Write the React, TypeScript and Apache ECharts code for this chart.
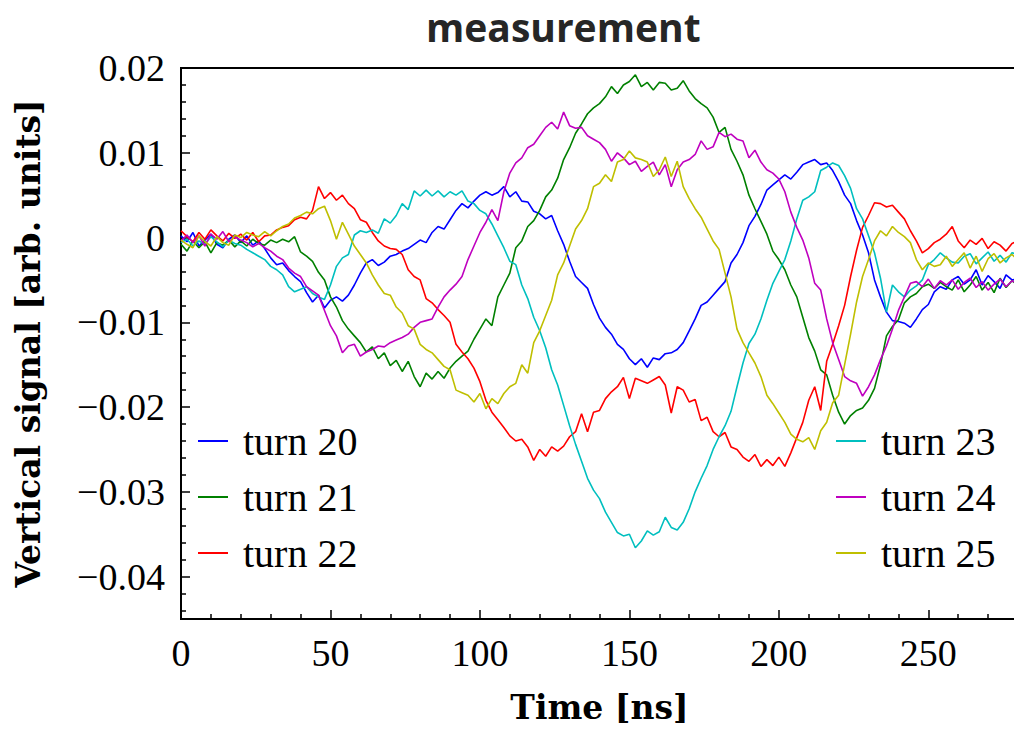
import React, { useEffect, useRef } from "react";
import * as echarts from "echarts";

// Sampling grid of the oscilloscope traces (ns)
const TIME_NS: number[] = Array.from({ length: 141 }, (_, i) => i * 2);

// Vertical signal per turn, in units of 1e-3 arb. units
const turn20 = [
  0.2, -0.5, 0.6, -1.0, -0.3, 0.4, -0.8, -1.2, -0.2, 0.3,
  -0.6, 0.2, -0.9, -0.4, -1.3, -2.4, -3.2, -3.0, -3.9, -4.6,
  -5.2, -6.5, -7.6, -6.8, -8.3, -7.4, -7.0, -7.5, -6.8, -5.6,
  -4.2, -3.0, -2.6, -3.3, -2.9, -2.2, -2.0, -1.6, -1.3, -0.8,
  -0.3, -0.6, 0.6, 1.3, 1.0, 2.1, 3.2, 4.0, 3.5, 4.3,
  5.0, 5.4, 5.0, 5.3, 6.0, 4.8, 5.4, 4.3, 4.2, 3.1,
  2.8, 2.2, 2.6, 0.8, -0.8, -2.8, -4.6, -5.3, -6.0, -7.9,
  -9.5, -10.6, -11.4, -12.6, -13.2, -14.3, -15.0, -14.3, -15.3, -14.2,
  -14.4, -13.7, -13.6, -13.2, -12.4, -11.0, -9.6, -8.0, -7.6, -6.8,
  -6.0, -5.2, -3.0, -2.0, -0.6, 1.4, 2.5, 3.9, 5.6, 6.2,
  6.8, 7.4, 6.9, 7.7, 8.6, 8.9, 9.2, 8.6, 8.8, 7.9,
  6.6, 5.0, 4.0, 2.0, 0.3, -1.8, -5.0, -7.0, -8.8, -9.8,
  -9.9, -10.1, -10.6, -9.6, -8.5, -7.9, -6.4, -5.8, -6.1, -5.0,
  -4.6, -5.5, -5.0, -3.8, -5.6, -4.5, -5.2, -6.0, -4.4, -5.0, -4.9,
];
const turn21 = [
  -0.8, -1.6, -0.4, -1.2, -0.5, -1.8, -0.6, -0.9, -0.3, -1.1,
  -0.4, -1.0, -0.2, -0.7, -0.9, -0.3, -0.6, -0.2, -0.5, 0.1,
  -1.7, -2.2, -2.8, -4.1, -5.0, -7.0, -8.2, -9.8, -10.8, -11.6,
  -12.4, -13.5, -12.9, -14.3, -13.6, -15.1, -14.5, -15.8, -14.6, -16.4,
  -17.6, -16.0, -16.7, -15.8, -16.6, -15.4, -14.6, -14.0, -13.4, -12.0,
  -10.8, -9.6, -10.4, -7.0, -5.6, -4.2, -1.2, -0.4, 1.3, 2.0,
  3.2, 4.8, 5.6, 7.0, 9.2, 10.6, 12.3, 13.4, 14.6, 15.3,
  15.8, 16.6, 17.8, 17.0, 18.0, 18.4, 19.2, 17.8, 18.3, 17.4,
  18.3, 18.2, 17.4, 17.6, 18.5, 17.3, 16.4, 15.8, 15.3, 14.2,
  12.4, 13.0, 10.4, 9.0, 7.4, 5.0, 3.4, 1.9, 0.4, -1.6,
  -2.6, -3.8, -5.6, -7.0, -9.4, -11.8, -13.4, -15.6, -16.2, -18.6,
  -20.6, -22.0, -21.0, -20.4, -20.1, -19.2, -17.8, -15.0, -11.6, -10.5,
  -9.7, -7.7, -7.0, -6.6, -5.8, -5.5, -6.0, -5.3, -5.8, -6.2,
  -5.0, -6.4, -5.6, -4.6, -6.2, -5.3, -6.5, -4.8, -5.9, -5.1, -5.6,
];
const turn22 = [
  0.8, 0.1, -0.5, 0.6, -0.2, 0.9, 0.2, -0.4, 0.5, -0.1,
  0.4, -0.3, 0.6, -0.5, 0.2, 0.3, 0.9, 1.2, 1.4, 2.1,
  2.4, 2.2, 3.2, 6.0, 4.6, 5.3, 4.4, 5.0, 4.0, 3.4,
  2.1, 1.8, 0.6, -0.4, -1.0, -1.3, -1.4, -2.0, -3.8, -4.6,
  -5.0, -7.2, -7.7, -8.5, -9.2, -10.0, -12.6, -13.5, -14.3, -15.4,
  -17.0, -19.2, -20.6, -21.5, -22.4, -23.4, -24.0, -23.8, -24.7, -26.3,
  -25.0, -25.8, -24.7, -25.2, -24.6, -23.5, -22.9, -20.8, -22.9, -20.6,
  -20.4, -19.0, -18.2, -17.6, -16.5, -19.0, -16.6, -16.9, -17.2, -16.8,
  -16.4, -17.4, -20.7, -17.6, -18.0, -19.4, -19.1, -21.6, -21.2, -22.9,
  -23.5, -23.0, -24.7, -25.0, -25.9, -26.4, -25.6, -27.0, -26.2, -26.9,
  -25.9, -27.0, -25.4, -23.6, -21.8, -19.2, -17.6, -20.4, -14.6, -12.6,
  -10.4, -8.0, -4.6, -1.5, 1.2, 2.6, 4.1, 4.0, 3.6, 3.8,
  3.0, 2.2, 0.8, -0.4, -1.8, -1.3, -0.6, -0.2, 0.4, 1.3,
  -0.4, -1.2, -0.3, -0.8, -0.1, -1.3, -0.5, -0.9, -1.6, -0.7, -0.4,
];
const turn23 = [
  -0.6, -0.2, -1.0, -0.4, -0.8, 0.1, -0.5, -1.1, -0.3, -0.7,
  -0.9, -1.4, -1.8, -2.2, -2.6, -3.4, -3.8, -4.4, -5.8, -6.4,
  -6.1, -5.8, -6.6, -7.0, -7.3, -5.6, -3.4, -2.4, -2.0, 0.3,
  0.8, 0.6, 0.9, 0.5, 2.2, 1.7, 2.6, 4.0, 3.3, 5.5,
  4.9, 5.6, 4.9, 5.5, 4.8, 5.4, 5.0, 5.5, 4.3, 4.0,
  3.2, 2.8, 1.6, 0.2, -1.2, -2.8, -3.2, -5.6, -7.2, -9.4,
  -11.0, -13.0, -15.6, -17.4, -19.8, -22.2, -24.4, -26.4, -28.4, -29.8,
  -30.8, -32.4, -33.6, -34.8, -35.2, -35.0, -36.6, -35.8, -34.6, -35.1,
  -34.7, -33.0, -34.2, -34.5, -33.6, -32.0, -30.0, -28.4, -26.9, -25.0,
  -23.5, -22.2, -20.5, -17.6, -14.8, -12.5, -11.4, -9.6, -7.4, -5.4,
  -4.0, -2.6, -0.4, 2.2, 4.4, 4.8, 5.4, 7.9, 8.3, 8.8,
  8.5, 7.3, 5.8, 3.4, 2.2, 0.2, -1.8, -4.8, -8.8, -5.6,
  -6.4, -7.0, -6.2, -5.7, -5.0, -3.2, -2.6, -1.8, -2.4, -2.9,
  -3.0, -2.2, -1.9, -3.1, -2.4, -1.7, -2.8, -2.1, -2.9, -1.8, -2.0,
];
const turn24 = [
  -0.4, 0.3, -0.6, 0.2, -1.0, 0.4, -0.2, 0.7, -0.5, 0.1,
  -0.3, -0.6, -1.1, -0.7, -1.2, -1.6, -2.2, -2.6, -3.6, -4.2,
  -4.6, -5.8, -6.3, -6.8, -8.6, -10.4, -11.6, -13.6, -12.8, -12.6,
  -14.0, -13.5, -13.2, -12.8, -12.9, -12.4, -12.1, -11.8, -11.4, -10.6,
  -10.0, -9.8, -9.6, -8.2, -7.0, -6.2, -5.5, -4.6, -2.6, -1.0,
  0.6, 1.8, 3.3, 2.0, 5.4, 7.6, 8.8, 9.4, 10.6, 11.0,
  12.0, 13.0, 13.6, 12.8, 14.8, 13.2, 12.9, 13.0, 12.0, 11.6,
  11.2, 10.4, 9.0, 10.0, 9.4, 8.6, 9.0, 7.8, 8.4, 8.9,
  7.4, 8.6, 6.0, 8.0, 8.9, 9.2, 9.8, 11.4, 10.4, 10.7,
  12.4, 11.9, 12.2, 11.6, 11.4, 9.4, 10.3, 8.9, 8.0, 7.6,
  6.9, 5.4, 3.0, 1.2, -0.3, -2.4, -5.4, -6.2, -9.6, -12.4,
  -14.4, -16.4, -16.9, -17.2, -18.7, -17.6, -16.2, -14.4, -12.8, -10.8,
  -8.6, -7.0, -5.4, -5.2, -5.8, -4.9, -6.0, -5.1, -5.6, -5.0,
  -6.1, -5.3, -4.8, -5.9, -5.2, -6.2, -5.5, -4.9, -5.8, -5.1, -5.5,
];
const turn25 = [
  -0.3, -0.8, -1.2, 0.2, -0.5, -1.0, 0.1, -0.6, -0.9, 0.3,
  0.0, 0.6, 0.3, 0.1, 0.7, 0.2, 0.8, 1.3, 1.6, 2.3,
  2.6, 3.0, 2.8, 3.4, 3.7, 2.0, -0.2, 1.8, 0.4, -1.0,
  -2.0, -3.0, -4.4, -5.6, -6.6, -6.8, -8.2, -8.9, -10.4, -10.8,
  -12.6, -13.2, -13.6, -14.4, -15.2, -15.6, -18.0, -18.3, -18.6, -19.4,
  -18.4, -20.2, -19.0, -19.6, -18.4, -17.6, -17.2, -15.0, -16.0, -12.4,
  -11.0, -9.2, -7.4, -4.4, -3.0, -1.0, 1.0, 2.0, 3.4, 6.0,
  6.4, 7.4, 6.6, 8.9, 9.2, 10.2, 9.4, 9.2, 8.9, 7.2,
  8.0, 9.5, 7.2, 9.0, 6.0, 4.6, 3.4, 2.4, 1.0, -0.4,
  -1.4, -4.2, -7.0, -10.8, -12.4, -13.6, -14.8, -16.4, -18.6, -19.6,
  -20.7, -21.8, -23.2, -23.8, -24.1, -23.6, -25.0, -22.8, -21.8, -19.5,
  -18.6, -15.0, -11.4, -7.6, -4.6, -2.6, -0.4, 0.8, 0.2, 1.3,
  0.6, 0.1, -0.6, -2.6, -3.8, -3.0, -3.4, -3.2, -2.2, -3.4,
  -2.6, -1.8, -3.6, -2.2, -4.0, -2.5, -1.9, -3.0, -2.4, -2.0, -2.7,
];

const SERIES_NAMES = ["turn 20", "turn 21", "turn 22", "turn 23", "turn 24", "turn 25"];
const SERIES_VALUES = [turn20, turn21, turn22, turn23, turn24, turn25];
const SERIES_COLORS = ["#0000ff", "#008000", "#ff0000", "#00bfbf", "#bf00bf", "#bfbf00"];

const X_MAJOR_TICKS = [0, 50, 100, 150, 200, 250];
const X_MINOR_TICKS = [10, 20, 30, 40, 60, 70, 80, 90, 110, 120, 130, 140, 160, 170, 180, 190, 210, 220, 230, 240, 260, 270];
const Y_MAJOR_TICKS = [-0.04, -0.03, -0.02, -0.01, 0, 0.01, 0.02];
const Y_MINOR_TICKS = [
  -0.044, -0.042, -0.038, -0.036, -0.034, -0.032, -0.028, -0.026, -0.024, -0.022,
  -0.018, -0.016, -0.014, -0.012, -0.008, -0.006, -0.004, -0.002,
  0.002, 0.004, 0.006, 0.008, 0.012, 0.014, 0.016, 0.018,
];

const SERIF = "'Liberation Serif', 'DejaVu Serif', serif";
const SERIF_WIDE = "'DejaVu Serif', 'Liberation Serif', serif";

function fmtY(v: number): string {
  if (Math.abs(v) < 1e-9) return "0";
  return (v < 0 ? "\u2212" : "") + Math.abs(v).toFixed(2);
}

export default function App() {
  const ref = useRef<HTMLDivElement>(null);

  useEffect(() => {
    if (!ref.current) return;
    const chart = echarts.init(ref.current, null, { renderer: "svg" });

    const series = SERIES_NAMES.map((name, k) => ({
      name,
      type: "line",
      xAxisIndex: 0,
      yAxisIndex: 0,
      showSymbol: false,
      symbol: "none",
      color: SERIES_COLORS[k],
      lineStyle: { width: 1.6, color: SERIES_COLORS[k] },
      data: TIME_NS.map((t, i) => [t, SERIES_VALUES[k][i] / 1000]),
    }));

    const legendText = {
      fontFamily: SERIF,
      fontSize: 40,
      color: "#000",
      lineHeight: 40,
      padding: [0, 0, 0, 10],
    };

    chart.setOption({
      animation: false,
      backgroundColor: "#fff",
      title: {
        text: "measurement",
        left: 421,
        top: 2,
        textStyle: { fontFamily: "'Open Sans', sans-serif", fontWeight: "bold", fontSize: 39, color: "#262626" },
      },
      grid: { left: 181, right: 4, top: 68, bottom: 111, show: true, borderColor: "#000", borderWidth: 2, containLabel: false },
      legend: [
        {
          data: SERIES_NAMES.slice(0, 3),
          orient: "vertical",
          left: 198,
          top: 421,
          padding: 0,
          icon: "rect",
          itemWidth: 30,
          itemHeight: 2,
          itemGap: 16,
          textStyle: legendText,
        },
        {
          data: SERIES_NAMES.slice(3),
          orient: "vertical",
          left: 836,
          top: 421,
          padding: 0,
          icon: "rect",
          itemWidth: 30,
          itemHeight: 2,
          itemGap: 16,
          textStyle: legendText,
        },
      ],
      xAxis: [
        {
          type: "value",
          min: 0,
          max: 280,
          position: "bottom",
          axisLine: { show: true, onZero: false, lineStyle: { color: "#000", width: 2 } },
          axisTick: { show: true, inside: true, length: 9, lineStyle: { color: "#000", width: 1.5 }, customValues: X_MAJOR_TICKS },
          axisLabel: { customValues: X_MAJOR_TICKS, fontFamily: SERIF, fontSize: 38, color: "#000", margin: 15 },
          splitLine: { show: false },
          name: "Time [ns]",
          nameLocation: "middle",
          nameGap: 72,
          nameTextStyle: { fontFamily: SERIF_WIDE, fontWeight: "bold", fontSize: 33, color: "#000" },
        },
        {
          type: "value",
          min: 0,
          max: 280,
          position: "bottom",
          axisLine: { show: false, onZero: false },
          axisTick: { show: true, inside: true, length: 5, lineStyle: { color: "#000", width: 1.5 }, customValues: X_MINOR_TICKS },
          axisLabel: { show: false },
          splitLine: { show: false },
        },
      ],
      yAxis: [
        {
          type: "value",
          min: -0.045,
          max: 0.02,
          position: "left",
          axisLine: { show: true, onZero: false, lineStyle: { color: "#000", width: 2 } },
          axisTick: { show: true, inside: true, length: 9, lineStyle: { color: "#000", width: 1.5 }, customValues: Y_MAJOR_TICKS },
          axisLabel: { customValues: Y_MAJOR_TICKS, formatter: fmtY, fontFamily: SERIF, fontSize: 38, color: "#000", margin: 16 },
          splitLine: { show: false },
          name: "Vertical signal [arb. units]",
          nameLocation: "middle",
          nameGap: 136,
          nameTextStyle: { fontFamily: SERIF_WIDE, fontWeight: "bold", fontSize: 33, color: "#000" },
        },
        {
          type: "value",
          min: -0.045,
          max: 0.02,
          position: "left",
          axisLine: { show: false, onZero: false },
          axisTick: { show: true, inside: true, length: 5, lineStyle: { color: "#000", width: 1.5 }, customValues: Y_MINOR_TICKS },
          axisLabel: { show: false },
          splitLine: { show: false },
        },
      ],
      series,
    });

    return () => chart.dispose();
  }, []);

  return (
    <div style={{ position: "fixed", left: 0, top: 0, width: 1014, height: 730, overflow: "hidden", background: "#fff" }}>
      <div ref={ref} style={{ width: 1022, height: 730 }} />
    </div>
  );
}
